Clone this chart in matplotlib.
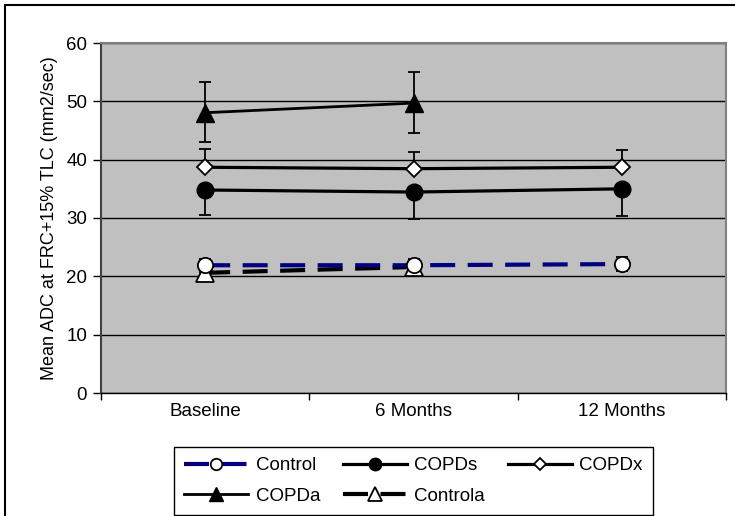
import numpy as np
import matplotlib
matplotlib.use("Agg")
import matplotlib.pyplot as plt
from matplotlib.patches import Rectangle

plt.rcParams['font.family'] = ['Liberation Sans', 'DejaVu Sans']

visits = ['Baseline', '6 Months', '12 Months']

control = [21.9, 21.9, 22.1]
control_err = [1.1, 1.1, 1.15]
copds = [34.8, 34.45, 35.0]
copds_err = [4.35, 4.7, 4.6]
copdx = [38.7, 38.45, 38.7]
copdx_err = [3.1, 2.85, 2.95]
copda = [48.05, 49.7]
copda_err_lo = [5.05, 5.1]
copda_err_hi = [5.35, 5.3]
controla = [20.6, 21.6]
controla_err = [0.8, 0.8]

fig = plt.figure(figsize=(7.35, 5.16), dpi=100)
ax = fig.add_axes([101 / 735, 1 - 393 / 516, 625 / 735, 350 / 516])
ax.set_facecolor('#C0C0C0')

x = np.arange(len(visits))
xa = x[:2]

# error bars first, so markers sit on top of them
eb = dict(fmt='none', ecolor='black', elinewidth=1.3, capsize=4.5, capthick=1.3, zorder=2)
ax.errorbar(x, control, yerr=control_err, **eb)
ax.errorbar(x, copds, yerr=[copds_err, np.zeros(3)], **eb)
ax.errorbar(x, copdx, yerr=[np.zeros(3), copdx_err], **eb)
ax.errorbar(xa, copda, yerr=[copda_err_lo, copda_err_hi], **eb)
ax.errorbar(xa, controla, yerr=controla_err, **eb)

h_control, = ax.plot(x, control, color='#000080', lw=3, dashes=(6, 3),
                     marker='o', ms=11, mfc='white', mec='black', mew=1.3,
                     label='Control', zorder=4)
h_copds, = ax.plot(x, copds, color='black', lw=2.3, marker='o', ms=12,
                   mfc='black', mec='black', label='COPDs', zorder=4)
h_copdx, = ax.plot(x, copdx, color='black', lw=2.3, marker='D', ms=8,
                   mfc='white', mec='black', mew=1.3, label='COPDx', zorder=4)
h_copda, = ax.plot(xa, copda, color='black', lw=2.0, marker='^', ms=13,
                   mfc='black', mec='black', label='COPDa', zorder=4)
h_controla, = ax.plot(xa, controla, color='black', lw=3, dashes=(6, 3),
                      marker='^', ms=13, mfc='white', mec='black', mew=1.3,
                      label='Controla', zorder=3)

ax.set_xlim(-0.5, 2.5)
ax.set_ylim(0, 60)
ax.set_yticks(np.arange(0, 61, 10))
ax.set_xticks(x)
ax.set_xticklabels(visits)
ax.set_xticks([-0.5, 0.5, 1.5, 2.5], minor=True)
ax.tick_params(axis='x', which='major', length=0, pad=7, labelsize=13.5)
ax.tick_params(axis='x', which='minor', length=5, width=1, direction='out')
ax.tick_params(axis='y', length=6, width=1, direction='out', labelsize=13.5, pad=4)
ax.yaxis.grid(True, color='black', lw=1)
ax.set_axisbelow(True)

ax.spines['left'].set_color('#404040')
ax.spines['left'].set_linewidth(1.5)
ax.spines['bottom'].set_color('black')
ax.spines['bottom'].set_linewidth(1)
for s in ['top', 'right']:
    ax.spines[s].set_color('#808080')
    ax.spines[s].set_linewidth(1.5)

ax.set_ylabel('Mean ADC at FRC+15% TLC (mm2/sec)', fontsize=13, labelpad=6)

leg = fig.legend(handles=[h_control, h_copda, h_copds, h_controla, h_copdx],
                 ncol=3, loc='lower left',
                 bbox_to_anchor=(174 / 735, 1 / 516, 479 / 735, 66 / 516),
                 mode='expand', fontsize=13.5, handlelength=3.4, markerscale=0.75,
                 handletextpad=0.4, columnspacing=0.5, labelspacing=0.7,
                 borderpad=0.55, borderaxespad=0, fancybox=False,
                 framealpha=1, edgecolor='black')
leg.get_frame().set_linewidth(1)

# outer chart frame
fig.patches.append(Rectangle((5 / 735, -0.05), 1.0, 1 - 5 / 516 + 0.05,
                             transform=fig.transFigure, fill=False,
                             edgecolor='black', lw=1.5))

fig.savefig('out.png', dpi=100)
